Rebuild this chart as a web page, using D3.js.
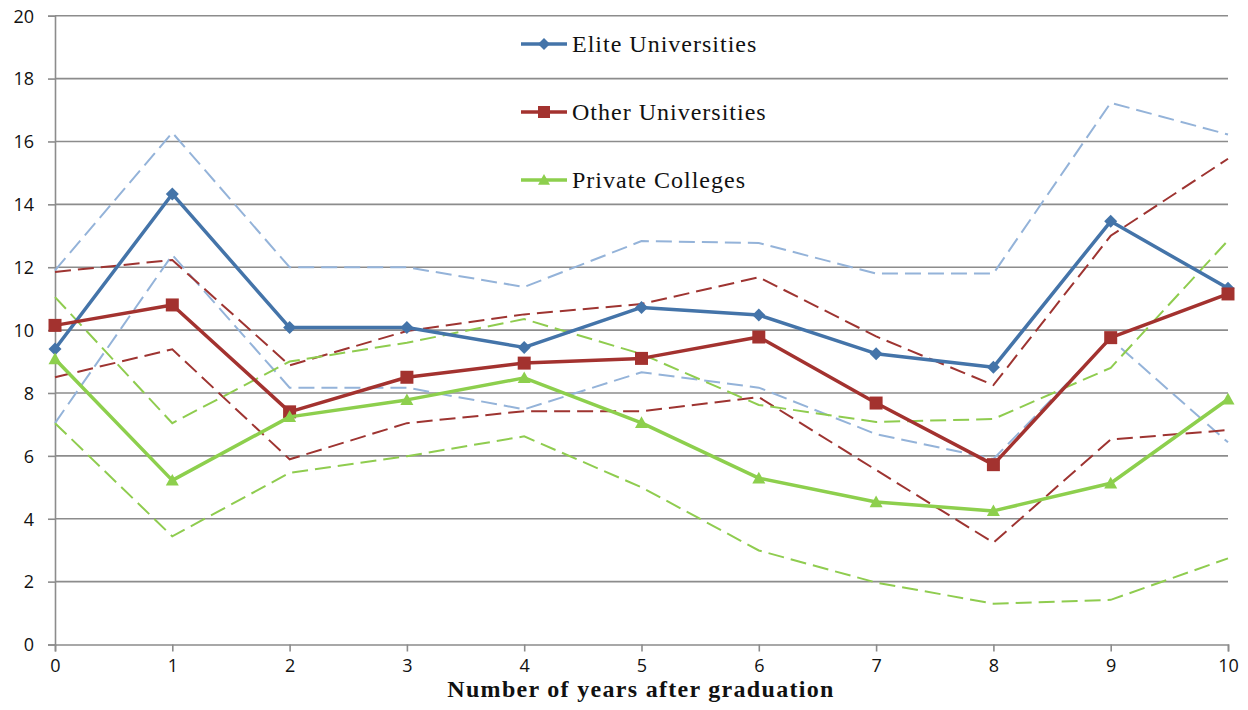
<!DOCTYPE html>
<html>
<head>
<meta charset="utf-8">
<script src="https://cdn.jsdelivr.net/npm/d3@7"></script>
<style>
  html, body { margin: 0; padding: 0; background: #fff; }
  svg { display: block; }
</style>
</head>
<body>
<svg id="chart" width="1248" height="710"></svg>
<script>
// Years after graduation
const years = [0, 1, 2, 3, 4, 5, 6, 7, 8, 9, 10];
const yTicks = [0, 2, 4, 6, 8, 10, 12, 14, 16, 18, 20];

// Central estimates
const elite   = [9.4, 14.33, 10.08, 10.08, 9.45, 10.72, 10.48, 9.25, 8.82, 13.46, 11.33];
const other   = [10.15, 10.8, 7.4, 8.5, 8.95, 9.1, 9.78, 7.68, 5.72, 9.76, 11.15];
const privateC = [9.08, 5.22, 7.24, 7.78, 8.48, 7.05, 5.29, 4.53, 4.25, 5.13, 7.8];

// Confidence bands (upper / lower)
const eliteHi   = [11.9, 16.28, 12.0, 12.0, 11.37, 12.83, 12.77, 11.8, 11.8, 17.23, 16.22];
const eliteLo   = [7.04, 12.39, 8.17, 8.17, 7.48, 8.66, 8.17, 6.69, 5.9, 9.72, 6.43];
const otherHi   = [11.85, 12.23, 8.88, 9.97, 10.5, 10.83, 11.68, 9.8, 8.25, 13.0, 15.45];
const otherLo   = [8.5, 9.39, 5.89, 7.04, 7.42, 7.42, 7.87, 5.55, 3.24, 6.52, 6.82];
const privateHi = [11.05, 7.04, 9.0, 9.6, 10.35, 9.24, 7.62, 7.08, 7.17, 8.8, 12.85];
const privateLo = [7.04, 3.44, 5.46, 5.99, 6.62, 5.0, 2.99, 1.97, 1.3, 1.42, 2.74];

const seriesNames = ["Elite Universities", "Other Universities", "Private Colleges"];
const xTitle = "Number of years after graduation";

const svg = d3.select("#chart");

const x = d3.scaleLinear().domain([0, 10]).range([55, 1228]);
const y = d3.scaleLinear().domain([0, 20]).range([644.5, 15.7]);

// Gridlines
svg.append("g").selectAll("line").data(yTicks.filter(d => d > 0)).join("line")
  .attr("x1", x(0)).attr("x2", x(10))
  .attr("y1", d => y(d)).attr("y2", d => y(d))
  .attr("stroke", "#8c8c8c").attr("stroke-width", 1.6);

// Y axis
const yAxis = svg.append("g").attr("transform", `translate(${x(0)},0)`)
  .call(d3.axisLeft(y).tickValues(yTicks).tickSize(7).tickPadding(14).tickFormat(d3.format("d")));
// X axis
const xAxis = svg.append("g").attr("transform", `translate(0,${y(0)})`)
  .call(d3.axisBottom(x).tickValues(years).tickSize(7).tickPadding(4).tickFormat(d3.format("d")));

[yAxis, xAxis].forEach(a => {
  a.selectAll(".domain").attr("stroke", "#8c8c8c").attr("stroke-width", 1.6);
  a.selectAll(".tick line").attr("stroke", "#8c8c8c").attr("stroke-width", 1.6);
  a.selectAll(".tick text").attr("fill", "#111").attr("font-family", "'Open Sans', sans-serif").attr("font-size", 18);
});
yAxis.selectAll(".tick text").attr("dy", "0.35em");
xAxis.selectAll(".tick text").attr("dy", "0.9em");

const line = d3.line().x((d, i) => x(years[i])).y(d => y(d));

// Dashed bands
const bands = [
  { data: eliteHi, color: "#94b3d9" },
  { data: eliteLo, color: "#94b3d9" },
  { data: otherHi, color: "#9e3431" },
  { data: otherLo, color: "#9e3431" },
  { data: privateHi, color: "#8fcc4f" },
  { data: privateLo, color: "#8fcc4f" }
];
svg.append("g").selectAll("path").data(bands).join("path")
  .attr("d", d => line(d.data))
  .attr("fill", "none")
  .attr("stroke", d => d.color)
  .attr("stroke-width", 2)
  .attr("stroke-dasharray", "16,7");

// Main series
const series = [
  { name: seriesNames[0], data: elite, color: "#4474a9", marker: "diamond" },
  { name: seriesNames[1], data: other, color: "#a3322f", marker: "square" },
  { name: seriesNames[2], data: privateC, color: "#8dcf4d", marker: "triangle" }
];

function markerPath(type, s) {
  if (type === "diamond") return `M0,${-s}L${s},0L0,${s}L${-s},0Z`;
  if (type === "square") return `M${-s},${-s}H${s}V${s}H${-s}Z`;
  return `M0,${-s}L${s},${s * 0.8}H${-s}Z`;
}

series.forEach(s => {
  const g = svg.append("g");
  g.append("path").attr("d", line(s.data))
    .attr("fill", "none").attr("stroke", s.color).attr("stroke-width", 3.5)
    .attr("stroke-linejoin", "round");
  g.selectAll("path.m").data(s.data).join("path").attr("class", "m")
    .attr("transform", (d, i) => `translate(${x(years[i])},${y(d)})`)
    .attr("d", markerPath(s.marker, 6.5))
    .attr("fill", s.color);
});

// Legend
const legendY = [44, 112, 180];
const lg = svg.append("g");
series.forEach((s, i) => {
  const gy = legendY[i];
  lg.append("rect").attr("x", 490).attr("y", gy - 20).attr("width", 330).attr("height", 40).attr("fill", "#fff");
  lg.append("line").attr("x1", 521).attr("x2", 567).attr("y1", gy).attr("y2", gy)
    .attr("stroke", s.color).attr("stroke-width", 3.5);
  lg.append("path").attr("transform", `translate(544,${gy})`)
    .attr("d", markerPath(s.marker, 6)).attr("fill", s.color);
  lg.append("text").attr("x", 572).attr("y", gy).attr("dy", "0.33em")
    .attr("font-family", "'Liberation Serif', 'Times New Roman', serif")
    .attr("font-size", 24).attr("letter-spacing", 1).attr("fill", "#111").text(s.name);
});

// X axis title
svg.append("text").attr("x", 641).attr("y", 697)
  .attr("text-anchor", "middle")
  .attr("font-family", "'Liberation Serif', 'Times New Roman', serif")
  .attr("font-weight", "bold").attr("font-size", 24).attr("letter-spacing", 1.3).attr("fill", "#111")
  .text(xTitle);
</script>
</body>
</html>
